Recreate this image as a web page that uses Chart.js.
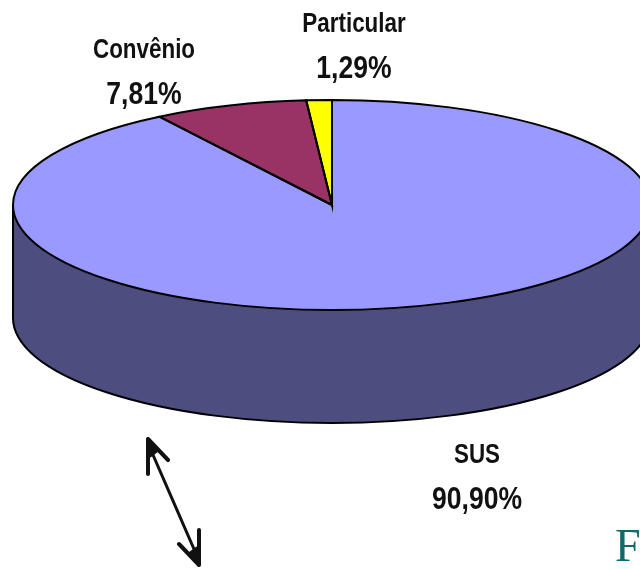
<!DOCTYPE html>
<html lang="pt">
<head>
    <meta charset="UTF-8">
    <title>Convênio, Particular, SUS</title>
    <script src="https://cdn.jsdelivr.net/npm/chart.js@4"></script>
    <style>
        html, body { margin: 0; padding: 0; background: #fff; }
        #wrap { position: relative; width: 640px; height: 570px; overflow: hidden; background: #fff; }
        #pie { position: absolute; left: 0; top: 0; filter: blur(0.3px); }
        .label {
            position: absolute;
            transform: translateX(-50%) scaleX(0.83);
            white-space: nowrap;
            font-family: "Liberation Sans", sans-serif;
            font-weight: bold;
            color: #111;
            line-height: 1;
            filter: blur(0.6px);
        }
        .name { font-size: 27px; }
        .pct { font-size: 32px; }
        #letra {
            position: absolute; left: 615px; top: 523px;
            font-family: "Liberation Serif", serif;
            font-size: 46px; line-height: 1; color: #0f6b6b;
        }
        #seta { position: absolute; left: 0; top: 0; filter: blur(0.6px); }
    </style>
</head>
<body>
    <div id="wrap">
        <canvas id="pie" width="664" height="664"></canvas>
        <svg id="seta" width="640" height="570" fill="none" stroke="#111" stroke-linecap="round" stroke-linejoin="round">
            <line x1="150" y1="448" x2="197" y2="556" stroke-width="3"/>
            <path d="M168 460 L148 439 L148 474" stroke-width="4"/>
            <path d="M179 544 L199 565 L199 530" stroke-width="4"/>
            <path d="M148 439 L158 450 L150 456 Z" fill="#111" stroke-width="3"/>
            <path d="M199 565 L189 554 L197 548 Z" fill="#111" stroke-width="3"/>
        </svg>
        <div id="letra">F</div>
    </div>

    <script>
        const categories = ['SUS', 'Convênio', 'Particular'];
        const values = [90.90, 7.81, 1.29];
        const colors = ['#9999ff', '#993366', '#ffff00'];

        // text centre x and top y of each label, name then percentage
        const labelX = [477, 144, 354];
        const nameTop = [441, 36, 10];
        const pctTop = [482, 77, 51];

        const centerY = 205;   // where the ellipse centre sits in the page
        const radiusY = 105;   // squashed radius
        const depth = 113;     // height of the cylinder wall
        const wallColor = '#4d4d80';

        function squash(ctx, arc) {
            ctx.translate(0, centerY);
            ctx.scale(1, radiusY / arc.outerRadius);
            ctx.translate(0, -arc.y);
        }

        const tilted = {
            id: 'tilted',
            beforeDatasetsDraw(chart) {
                const ctx = chart.ctx;
                const arc = chart.getDatasetMeta(0).data[0];
                const left = arc.x - arc.outerRadius;
                const right = arc.x + arc.outerRadius;

                // wall under the top face
                ctx.save();
                ctx.beginPath();
                ctx.moveTo(left, centerY);
                ctx.lineTo(left, centerY + depth);
                ctx.ellipse(arc.x, centerY + depth, arc.outerRadius, radiusY, 0, Math.PI, 0, true);
                ctx.lineTo(right, centerY);
                ctx.closePath();
                ctx.fillStyle = wallColor;
                ctx.fill();
                ctx.beginPath();
                ctx.moveTo(left, centerY);
                ctx.lineTo(left, centerY + depth);
                ctx.ellipse(arc.x, centerY + depth, arc.outerRadius, radiusY, 0, Math.PI, 0, true);
                ctx.lineTo(right, centerY);
                ctx.strokeStyle = '#000';
                ctx.lineWidth = 2;
                ctx.stroke();
                ctx.restore();

                // the pie itself is drawn by chart.js inside this transform
                ctx.save();
                squash(ctx, arc);
            },
            afterDatasetsDraw(chart) {
                const ctx = chart.ctx;
                ctx.restore();

                // outlines stroked after the transform so the line stays even
                chart.getDatasetMeta(0).data.forEach(arc => {
                    ctx.save();
                    squash(ctx, arc);
                    ctx.beginPath();
                    ctx.moveTo(arc.x, arc.y);
                    ctx.arc(arc.x, arc.y, arc.outerRadius, arc.startAngle, arc.endAngle);
                    ctx.closePath();
                    ctx.restore();
                    ctx.strokeStyle = '#000';
                    ctx.lineWidth = 2;
                    ctx.stroke();
                });
            }
        };

        new Chart(document.getElementById('pie').getContext('2d'), {
            type: 'pie',
            data: {
                labels: categories,
                datasets: [{
                    data: values,
                    backgroundColor: colors,
                    borderWidth: 0
                }]
            },
            options: {
                responsive: false,
                animation: false,
                events: [],
                layout: { padding: 13 },
                plugins: {
                    legend: { display: false },
                    tooltip: { enabled: false }
                }
            },
            plugins: [tilted]
        });

        const wrap = document.getElementById('wrap');
        function addLabel(text, cls, x, y) {
            const el = document.createElement('div');
            el.className = 'label ' + cls;
            el.textContent = text;
            el.style.left = x + 'px';
            el.style.top = y + 'px';
            wrap.appendChild(el);
        }
        categories.forEach((name, i) => {
            addLabel(name, 'name', labelX[i], nameTop[i]);
            addLabel(values[i].toFixed(2).replace('.', ',') + '%', 'pct', labelX[i], pctTop[i]);
        });
    </script>
</body>
</html>
